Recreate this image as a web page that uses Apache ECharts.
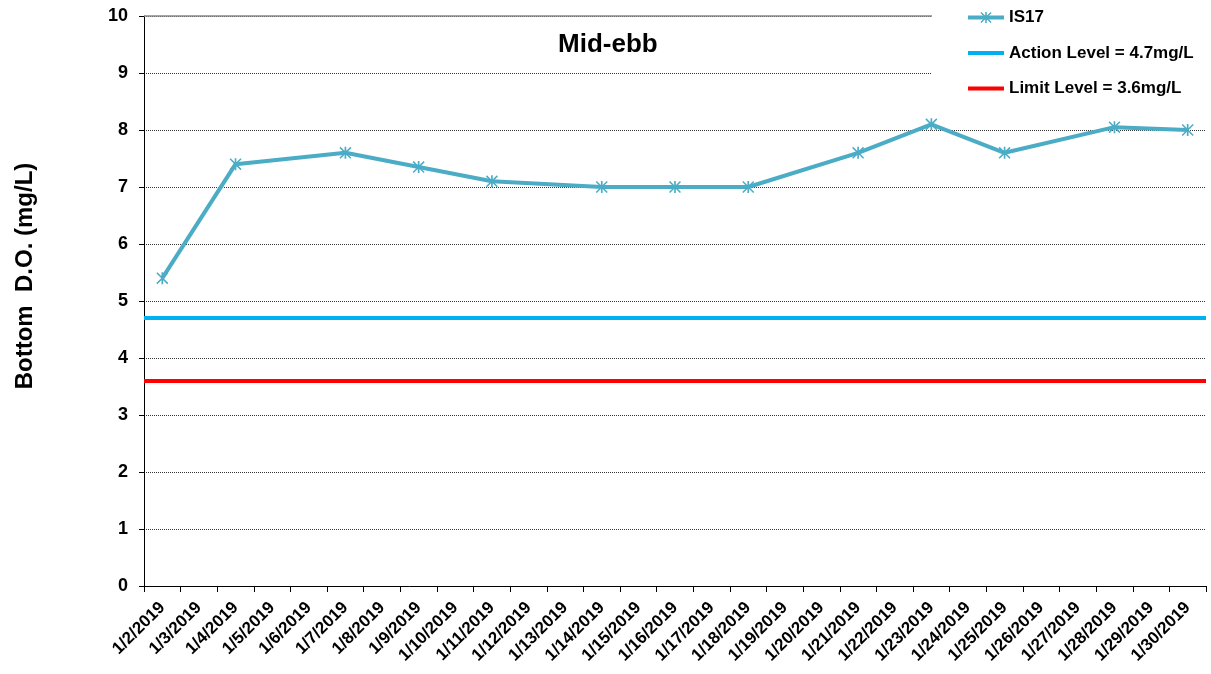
<!DOCTYPE html>
<html>
<head>
<meta charset="utf-8">
<script src="https://cdn.jsdelivr.net/npm/echarts@6/dist/echarts.min.js"></script>
<style>
  html, body { margin: 0; padding: 0; background: #fff; }
  #chart { width: 1211px; height: 674px; }
</style>
</head>
<body>
<div id="chart"></div>
<script>
var dates = ['1/2/2019', '1/3/2019', '1/4/2019', '1/5/2019', '1/6/2019', '1/7/2019', '1/8/2019',
    '1/9/2019', '1/10/2019', '1/11/2019', '1/12/2019', '1/13/2019', '1/14/2019', '1/15/2019',
    '1/16/2019', '1/17/2019', '1/18/2019', '1/19/2019', '1/20/2019', '1/21/2019', '1/22/2019',
    '1/23/2019', '1/24/2019', '1/25/2019', '1/26/2019', '1/27/2019', '1/28/2019', '1/29/2019',
    '1/30/2019'];

// bottom D.O. at IS17, one value per sampling day (null = no sample)
var is17 = [5.4, null, 7.4, null, null, 7.6, null,
    7.35, null, 7.1, null, null, 7.0, null,
    7.0, null, 7.0, null, null, 7.6, null,
    8.1, null, 7.6, null, null, 8.05, null,
    8.0];

var actionLevel = 4.7;
var limitLevel = 3.6;

var FONT = 'Arial, "Liberation Sans", sans-serif';

// asterisk marker like excel's star marker
var starSymbol = 'path://M4.3 0 L5.7 0 L5.7 10 L4.3 10 Z M0 0.9 L0.9 0 L10 9.1 L9.1 10 Z M9.1 0 L10 0.9 L0.9 10 L0 9.1 Z';

var myChart = echarts.init(document.getElementById('chart'), null, {renderer: 'canvas'});

option = {
    animation: false,
    backgroundColor: '#fff',
    title: {
        text: 'Mid-ebb',
        left: 553,
        top: 27,
        textStyle: {fontFamily: FONT, fontWeight: 'bold', fontSize: 26, color: '#000'}
    },
    legend: {
        orient: 'vertical',
        left: 932,
        top: 0,
        z: 10,
        padding: [9, 20, 10, 34],
        backgroundColor: '#fff',
        itemGap: 18.5,
        itemWidth: 36,
        itemHeight: 14,
        lineStyle: {width: 4},
        textStyle: {fontFamily: FONT, fontWeight: 'bold', fontSize: 17, color: '#000'},
        data: [
            {name: 'IS17'},
            {name: 'Action Level = 4.7mg/L', itemStyle: {opacity: 0}},
            {name: 'Limit Level = 3.6mg/L', itemStyle: {opacity: 0}}
        ]
    },
    grid: {
        left: 144,
        right: 5,
        top: 16,
        bottom: 88
    },
    xAxis: {
        type: 'category',
        data: dates,
        boundaryGap: true,
        axisLine: {lineStyle: {color: '#000', width: 1}},
        axisTick: {show: true, interval: 0, length: 6, lineStyle: {color: '#000'}},
        axisLabel: {
            interval: 0,
            rotate: 45,
            margin: 19,
            fontFamily: FONT,
            fontWeight: 'bold',
            fontSize: 17,
            color: '#000'
        },
        splitLine: {show: false}
    },
    yAxis: {
        type: 'value',
        min: 0,
        max: 10,
        interval: 1,
        name: 'Bottom  D.O. (mg/L)',
        nameLocation: 'middle',
        nameGap: 107,
        nameTextStyle: {
            fontFamily: FONT, fontWeight: 'bold', fontSize: 24, color: '#000',
            padding: [0, 0, 0, 50]
        },
        axisLine: {show: true, lineStyle: {color: '#000', width: 1}},
        axisTick: {show: true, length: 5, lineStyle: {color: '#000'}},
        axisLabel: {
            margin: 16,
            fontFamily: FONT,
            fontWeight: 'bold',
            fontSize: 18,
            color: '#000'
        },
        splitLine: {show: true, lineStyle: {color: '#333', width: 1, type: [1, 1]}}
    },
    series: [
        {
            name: 'IS17',
            type: 'line',
            data: is17,
            connectNulls: true,
            symbol: starSymbol,
            symbolSize: 12,
            showAllSymbol: true,
            lineStyle: {color: '#4BACC6', width: 4},
            itemStyle: {color: '#4BACC6'},
            markLine: {
                silent: true,
                symbol: 'none',
                label: {show: false},
                lineStyle: {color: '#888', width: 1.5, type: 'solid'},
                data: [{yAxis: 10}]
            }
        },
        {
            name: 'Action Level = 4.7mg/L',
            type: 'line',
            data: [],
            symbol: 'none',
            lineStyle: {color: '#00B0F0', width: 4},
            itemStyle: {color: '#00B0F0'},
            markLine: {
                silent: true,
                symbol: 'none',
                label: {show: false},
                lineStyle: {color: '#00B0F0', width: 4, type: 'solid'},
                data: [{yAxis: actionLevel}]
            }
        },
        {
            name: 'Limit Level = 3.6mg/L',
            type: 'line',
            data: [],
            symbol: 'none',
            lineStyle: {color: '#FF0000', width: 4},
            itemStyle: {color: '#FF0000'},
            markLine: {
                silent: true,
                symbol: 'none',
                label: {show: false},
                lineStyle: {color: '#FF0000', width: 4, type: 'solid'},
                data: [{yAxis: limitLevel}]
            }
        }
    ]
};

myChart.setOption(option);
</script>
</body>
</html>
